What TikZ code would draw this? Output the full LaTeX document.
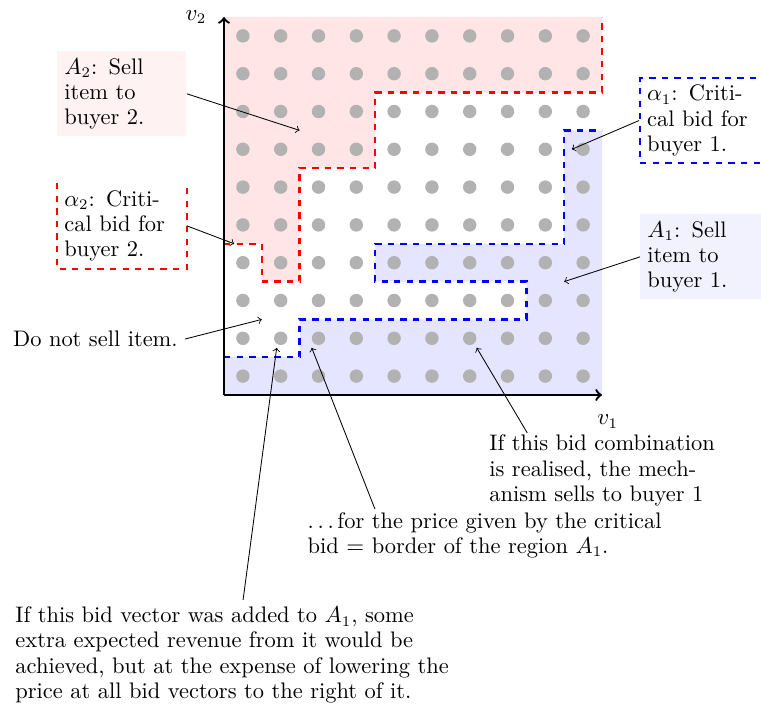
\documentclass[tikz,border=0pt]{standalone}
\begin{document}
\begin{tikzpicture}[x=18pt,y=18pt,
  every node/.style={font=\fontsize{10.7}{12}\selectfont},
  dot/.style={circle,fill=black!30,inner sep=0pt,minimum size=6.4pt},
  reddash/.style={red,line width=1.1pt,dashed},
  bluedash/.style={blue,line width=1.1pt,dashed},
  axis/.style={line width=1.1pt,->},
  note/.style={->},
  infobox/.style={anchor=north west,text width=54.8pt,align=left,inner sep=3.33pt},
  freetext/.style={anchor=north west,align=left,inner sep=0pt}
]
\useasboundingbox (-5.926,-8.307) rectangle (14.206,10.45);

% regions
\fill[red!10] (0,10) -- (10,10) -- (10,8) -- (4,8) -- (4,6) -- (2,6) -- (2,3) -- (1,3) -- (1,4) -- (0,4) -- cycle;
\fill[blue!10] (0,0) -- (0,1) -- (2,1) -- (2,2) -- (8,2) -- (8,3) -- (4,3) -- (4,4) -- (9,4) -- (9,7) -- (10,7) -- (10,0) -- cycle;

% bid grid
\foreach \i in {0,...,9} {
  \foreach \j in {0,...,9} {
    \node[dot] (d-\i-\j) at (\i+0.5,\j+0.5) {};
  }
}

% critical bid borders
\draw[reddash] (0,4) -- (1,4) -- (1,3) -- (2,3) -- (2,6) -- (4,6) -- (4,8) -- (10,8) -- (10,10);
\draw[bluedash] (0,1) -- (2,1) -- (2,2) -- (8,2) -- (8,3) -- (4,3) -- (4,4) -- (9,4) -- (9,7) -- (10,7);

% axes
\coordinate (O) at (0,0);
\coordinate (xend) at (10,0);
\coordinate (yend) at (0,10);
\draw[axis] (O) -- (xend);
\draw[axis] (O) -- (yend);
\node (v2) at (-0.74,10.0) {$v_2$};
\node (v1) at (10.15,-0.70) {$v_1$};

% boxes
\node[infobox,fill=red!5] (A2) at (-4.418,9.101) {$A_2$: Sell\\ item to\\ buyer 2.};
\node[infobox] (al2) at (-4.418,5.608) {$\alpha_2$: Criti-\\ cal bid for\\ buyer 2.};
\draw[reddash] (al2.north west) -- (al2.south west) -- (al2.south east) -- (al2.north east);
\node[infobox,draw=blue,line width=1.1pt,dashed] (al1) at (10.979,8.413) {$\alpha_1$: Criti-\\ cal bid for\\ buyer 1.};
\node[infobox,fill=blue!5] (A1) at (11.005,4.788) {$A_1$: Sell\\ item to\\ buyer 1.};

\coordinate (pA2) at (2,7);
\coordinate (pal2) at (0.27,4);
\coordinate (pal1) at (9.2,6.5);
\coordinate (pA1) at (9,3);
\draw[note] (A2.east) -- (pA2);
\draw[note] (al2.east) -- (pal2);
\draw[note] (al1.west) -- (pal1);
\draw[note] (A1.west) -- (pA1);

% free texts
\node[anchor=base west] (dn) at (-5.775,1.278) {Do not sell item.};
\coordinate (pdn) at (1,2);
\draw[note] (dn.east) -- (pdn);

\node[freetext] (t1) at (7.01,-1.05) {If this bid combination\\ is realised, the mech-\\ anism sells to buyer 1};
\coordinate (p1) at (6.685,1.25);
\draw[note] ([xshift=18.2pt,yshift=0.9pt]t1.north west) -- (p1);

\node[freetext] (t2) at (2.204,-3.095) {.\kern1.75pt.\kern1.75pt.\kern1.75pt for the price given by the critical\\ bid $=$ border of the region $A_1$.};
\coordinate (p2) at (2.32,1.25);
\draw[note] ([xshift=32.2pt,yshift=1.4pt]t2.north west) -- (p2);

\node[freetext] (t3) at (-5.529,-5.593) {If this bid vector was added to $A_1$, some\\ extra expected revenue from it would be\\ achieved, but at the expense of lowering the\\ price at all bid vectors to the right of it.};
\coordinate (p3) at (1.394,1.25);
\draw[note] ([xshift=108.6pt,yshift=3.1pt]t3.north west) -- (p3);
\end{tikzpicture}
\end{document}
